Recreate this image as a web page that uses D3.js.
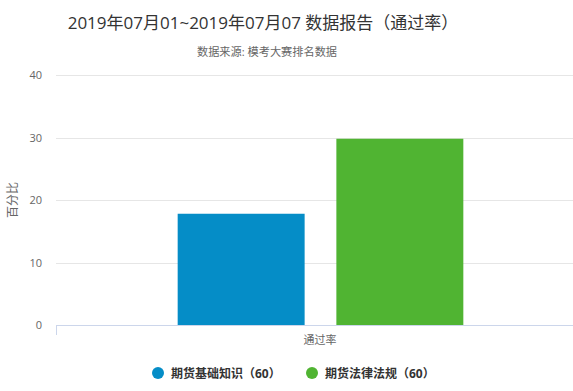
<!DOCTYPE html>
<html>
<head>
<meta charset="utf-8">
<script src="https://cdn.jsdelivr.net/npm/d3@7"></script>
<style>
  body { margin: 0; background: #fff; }
  svg { font-family: "Open Sans", "Noto Sans CJK SC", sans-serif; }
</style>
</head>
<body>
<div id="chart"></div>
<script>
const titleText = "2019年07月01~2019年07月07 数据报告（通过率）";
const subtitleText = "数据来源: 模考大赛排名数据";
const categories = ["通过率"];
const seriesNames = ["期货基础知识（60）", "期货法律法规（60）"];
const seriesValues = [17.8, 29.8];
const seriesColors = ["#058DC7", "#50B432"];
const yTicks = [0, 10, 20, 30, 40];

const W = 573;
const H = 391;
const plotLeft = 56;
const plotRight = 585; // plot runs a little past the visible edge
const plotTop = 75;
const plotBottom = 325;

const svg = d3.select("#chart")
  .append("svg")
  .attr("width", W)
  .attr("height", H);

const y = d3.scaleLinear().domain([0, 40]).range([plotBottom, plotTop]);
const x = d3.scaleBand().domain(categories).range([plotLeft, plotRight]).padding(0);

// group / point padding like the original
const bandW = x.bandwidth();
const groupW = bandW * 0.6;
const slotW = groupW / seriesValues.length;
const barW = slotW * 0.8;

// title
svg.append("text")
  .attr("x", 263).attr("y", 29)
  .attr("text-anchor", "middle")
  .attr("font-size", "17px")
  .attr("fill", "#333")
  .text(titleText);

svg.append("text")
  .attr("x", 267).attr("y", 56)
  .attr("text-anchor", "middle")
  .attr("font-size", "11.2px")
  .attr("fill", "#666")
  .text(subtitleText);

// grid
svg.append("g")
  .selectAll("line")
  .data(yTicks.filter(d => d > 0))
  .enter()
  .append("line")
  .attr("x1", plotLeft).attr("x2", W)
  .attr("y1", d => Math.round(y(d)) + 0.5)
  .attr("y2", d => Math.round(y(d)) + 0.5)
  .attr("stroke", "#e6e6e6");

// y labels
svg.append("g")
  .selectAll("text")
  .data(yTicks)
  .enter()
  .append("text")
  .attr("x", 42)
  .attr("y", d => y(d) + 4)
  .attr("text-anchor", "end")
  .attr("font-size", "11px")
  .attr("fill", "#666")
  .text(d => d);

svg.append("text")
  .attr("transform", "translate(17," + 200 + ") rotate(-90)")
  .attr("text-anchor", "middle")
  .attr("font-size", "12px")
  .attr("fill", "#666")
  .text("百分比");

// bars
svg.append("g")
  .selectAll("rect")
  .data(seriesValues)
  .enter()
  .append("rect")
  .attr("x", (d, i) => x(categories[0]) + bandW * 0.2 + i * slotW + slotW * 0.1)
  .attr("y", d => y(d))
  .attr("width", barW)
  .attr("height", d => plotBottom - y(d))
  .attr("fill", (d, i) => seriesColors[i]);

// x axis
svg.append("line")
  .attr("x1", plotLeft).attr("x2", W)
  .attr("y1", plotBottom + 0.5).attr("y2", plotBottom + 0.5)
  .attr("stroke", "#ccd6eb");
svg.append("line")
  .attr("x1", plotLeft + 0.5).attr("x2", plotLeft + 0.5)
  .attr("y1", plotBottom).attr("y2", plotBottom + 10)
  .attr("stroke", "#ccd6eb");

svg.append("text")
  .attr("x", 320).attr("y", 344)
  .attr("text-anchor", "middle")
  .attr("font-size", "11px")
  .attr("fill", "#666")
  .text(categories[0]);

// legend
const legendX = [158, 312];
const legend = svg.append("g")
  .selectAll("g")
  .data(seriesNames)
  .enter()
  .append("g")
  .attr("transform", (d, i) => "translate(" + legendX[i] + ",373)");
legend.append("circle")
  .attr("r", 6)
  .attr("fill", (d, i) => seriesColors[i]);
legend.append("text")
  .attr("x", 13).attr("y", 5)
  .attr("font-size", "12px")
  .attr("font-weight", "bold")
  .attr("fill", "#333")
  .text(d => d);
</script>
</body>
</html>
